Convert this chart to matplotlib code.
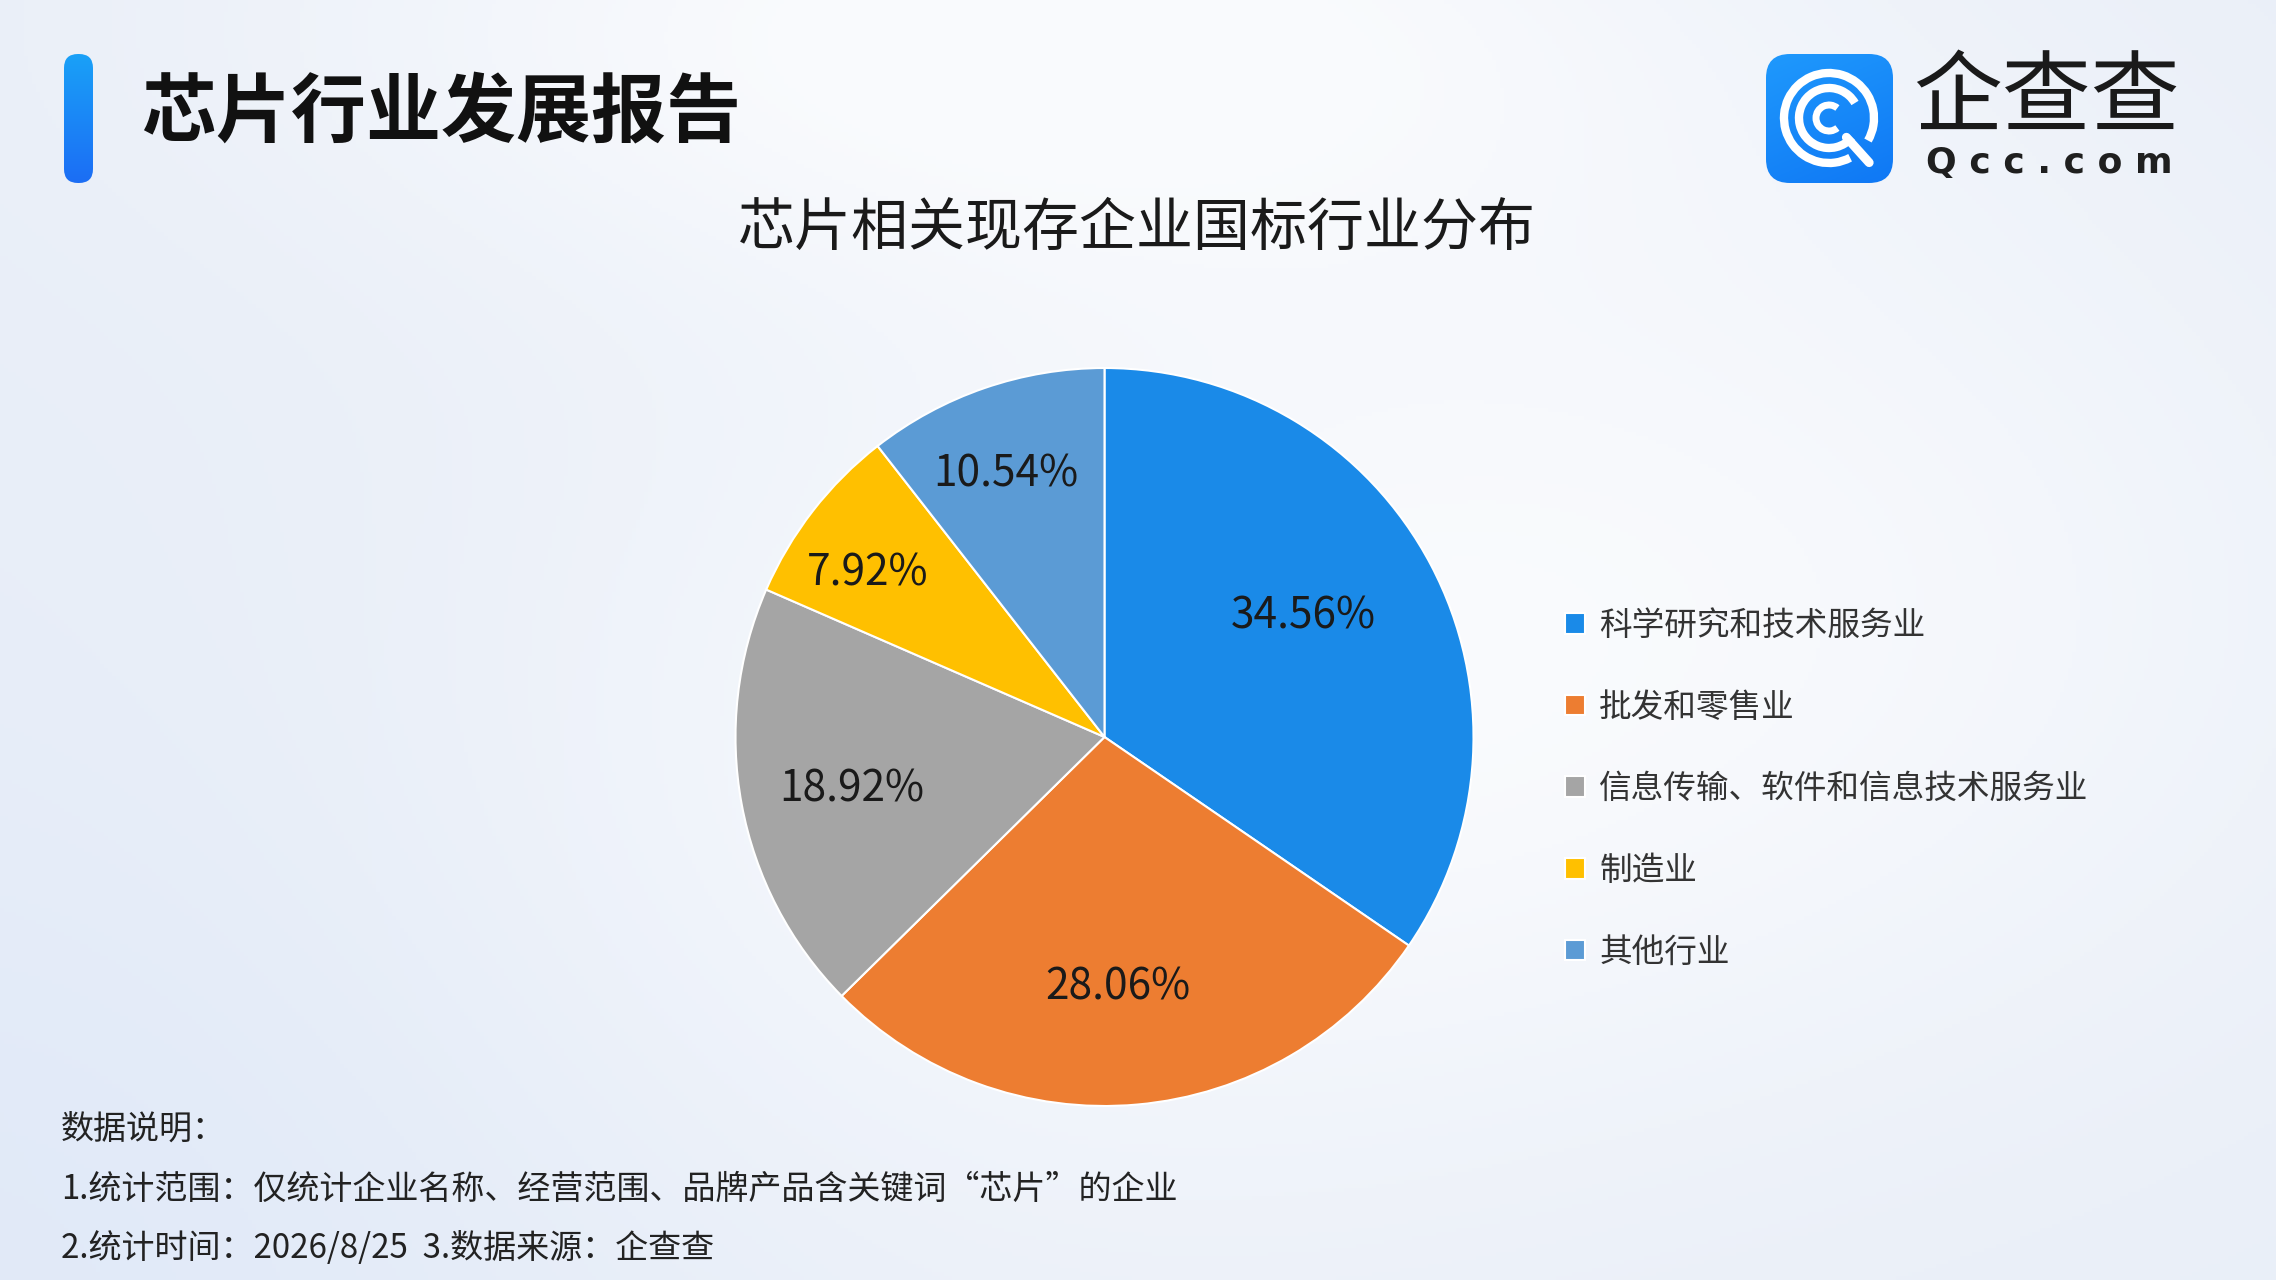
import numpy as np
import matplotlib
matplotlib.use('Agg')
import matplotlib.pyplot as plt
from matplotlib.patches import FancyBboxPatch, Arc

plt.rcParams['font.family'] = ['Noto Sans CJK SC', 'DejaVu Sans']

# data
categories = ['科学研究和技术服务业', '批发和零售业', '信息传输、软件和信息技术服务业', '制造业', '其他行业']
shares = [34.56, 28.06, 18.92, 7.92, 10.54]
colors = ['#1a8ae8', '#ed7d31', '#a5a5a5', '#ffc000', '#5b9bd5']
# label placement inside the wedges (radius, angle shift in degrees)
label_r = [0.63, 0.68, 0.70, 0.78, 0.76]
label_shift = [3.4, -2.0, 1.2, 3.1, 1.7]

header = '芯片行业发展报告'
chart_title = '芯片相关现存企业国标行业分布'
notes = ['数据说明：',
         '1.统计范围：仅统计企业名称、经营范围、品牌产品含关键词“芯片”的企业',
         '2.统计时间：2026/8/25  3.数据来源：企查查']

W, H = 2276, 1280
fig = plt.figure(figsize=(W / 100, H / 100), dpi=100)

# background, pixel coordinates, y pointing down
bg = fig.add_axes([0, 0, 1, 1])
bg.set_xlim(0, W)
bg.set_ylim(H, 0)
bg.axis('off')

yy, xx = np.mgrid[0:H:4, 0:W:4].astype(float)
base = np.array([0.912, 0.934, 0.972])
light = np.exp(-(((xx - 1000) / 700) ** 2 + ((yy - 20) / 260) ** 2))
light += 0.8 * np.exp(-(((xx - 1700) / 700) ** 2 + ((yy - 600) / 500) ** 2))
light += 0.6 * np.exp(-(((xx - 1000) / 600) ** 2 + ((yy - 800) / 500) ** 2))
light = np.clip(light, 0, 1) * 0.75
img = base[None, None, :] + (1 - base[None, None, :]) * light[..., None]
blue = np.exp(-(((xx - 0) / 700) ** 2 + ((yy - 1280) / 500) ** 2)) * 0.03
img[..., 0] -= blue
img[..., 1] -= blue * 0.6
bg.imshow(np.clip(img, 0, 1), extent=[0, W, H, 0], aspect='auto', zorder=0)

# header bar + title
bar = FancyBboxPatch((64, 54), 29, 129, boxstyle='round,pad=0,rounding_size=14',
                     facecolor='none', edgecolor='none')
bg.add_patch(bar)
grad = np.linspace(0, 1, 100)[:, None]
bar_img = np.zeros((100, 1, 3))
bar_img[..., 0] = 0.10 + (0.11 - 0.10) * grad
bar_img[..., 1] = 0.63 + (0.43 - 0.63) * grad
bar_img[..., 2] = 0.97 + (0.96 - 0.97) * grad
im = bg.imshow(bar_img, extent=[64, 93, 183, 54], aspect='auto', zorder=2)
im.set_clip_path(bar)

bg.text(141, 113, header, fontsize=54, fontweight='heavy', color='#111111',
        ha='left', va='center', zorder=3)

bg.text(1137, 229, chart_title, fontsize=41, color='#1a1a1a',
        ha='center', va='center', zorder=3)

# logo
icon = FancyBboxPatch((1766, 54), 127, 129, boxstyle='round,pad=0,rounding_size=24',
                      facecolor='none', edgecolor='none')
bg.add_patch(icon)
gy, gx = np.mgrid[0:1:60j, 0:1:60j]
t = (gx * 0.3 + gy * 0.7)
icon_img = np.zeros((60, 60, 3))
icon_img[..., 0] = 0.12 + (0.06 - 0.12) * t
icon_img[..., 1] = 0.60 + (0.47 - 0.60) * t
icon_img[..., 2] = 0.99 + (0.96 - 0.99) * t
im2 = bg.imshow(icon_img, extent=[1766, 1893, 183, 54], aspect='auto', zorder=2)
im2.set_clip_path(icon)

c0 = (1829, 118)
bg.add_patch(Arc(c0, 90, 90, theta1=62, theta2=30, color='white', lw=6, zorder=4))
bg.add_patch(Arc(c0, 60, 60, theta1=40, theta2=330, color='white', lw=6, zorder=4))
bg.add_patch(Arc(c0, 26, 26, theta1=50, theta2=310, color='white', lw=5, zorder=4))
ang = np.deg2rad(48)
bg.plot([c0[0] + 26 * np.cos(ang), c0[0] + 60 * np.cos(ang)],
        [c0[1] + 26 * np.sin(ang), c0[1] + 60 * np.sin(ang)],
        color='white', lw=6.5, solid_capstyle='round', zorder=4)

bg.text(1913, 100, '企查查', fontsize=64, fontweight='light', color='#1a1a1a',
        ha='left', va='center', zorder=3)
bg.text(2049, 163, 'Q c c . c o m', fontsize=26, fontweight='bold', color='#1f1f1f',
        family='DejaVu Sans', ha='center', va='center', zorder=3)

# footer notes
for i, line in enumerate(notes):
    bg.text(61, 1129 + i * 60, line, fontsize=23.8, color='#222222',
            ha='left', va='center', zorder=3)

# pie
cx, cy, R = 1104.5, 737, 369
pax = fig.add_axes([(cx - R) / W, (H - cy - R) / H, 2 * R / W, 2 * R / H])
wedges, texts, autotexts = pax.pie(
    shares, colors=colors, startangle=90, counterclock=False,
    autopct='%.2f%%', pctdistance=0.7,
    wedgeprops=dict(edgecolor='white', linewidth=1.5),
    textprops=dict(fontsize=30.5, color='#1a1a1a'))
pax.set_xlim(-1, 1)
pax.set_ylim(-1, 1)
for w, txt, r, s in zip(wedges, autotexts, label_r, label_shift):
    mid = np.deg2rad((w.theta1 + w.theta2) / 2 + s)
    txt.set_position((r * np.cos(mid), r * np.sin(mid)))

leg = fig.legend(wedges, categories, loc='upper left',
                 bbox_to_anchor=(1565 / W, 1 - 610 / H),
                 frameon=False, fontsize=23.5, handlelength=0.6, handleheight=0.6,
                 handletextpad=0.45, labelspacing=1.52, borderpad=0, borderaxespad=0)
for t in leg.get_texts():
    t.set_color('#333333')

fig.savefig('out.png', dpi=100)
